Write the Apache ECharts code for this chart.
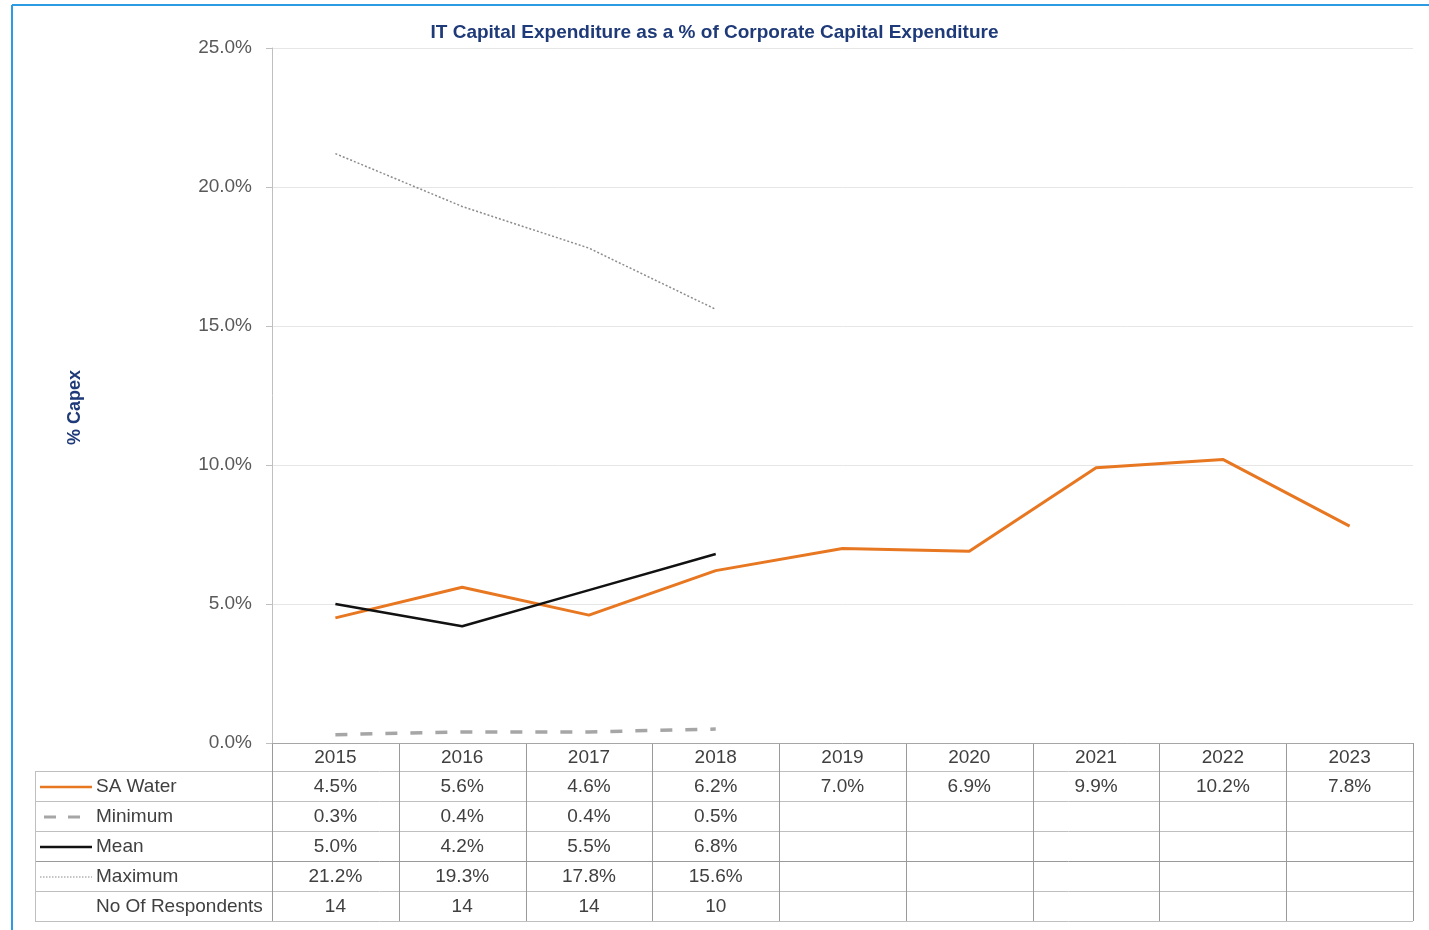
<!DOCTYPE html>
<html><head><meta charset="utf-8">
<script src="https://cdn.jsdelivr.net/npm/echarts@6/dist/echarts.min.js"></script>
<style>html,body{margin:0;padding:0;background:#fff}#c{width:1429px;height:930px}</style>
</head><body><div id="c"></div>
<script>
var years = ['2015','2016','2017','2018','2019','2020','2021','2022','2023'];
var saWater = [4.5,5.6,4.6,6.2,7.0,6.9,9.9,10.2,7.8];
var minimum = [0.3,0.4,0.4,0.5];
var mean = [5.0,4.2,5.5,6.8];
var maximum = [21.2,19.3,17.8,15.6];
var respondents = [14,14,14,10];
var yTicks = [0,5,10,15,20,25];
var rowNames = ['SA Water','Minimum','Mean','Maximum','No Of Respondents'];

var FONT = 'Liberation Sans, Arial, sans-serif';
var FS = 19;
var chart = echarts.init(document.getElementById('c'), null, {renderer:'canvas'});
var option = {
  animation:false,
  backgroundColor:'#fff',
  title:{text:'IT Capital Expenditure as a % of Corporate Capital Expenditure', left:'center', top:18,
    textStyle:{fontFamily:FONT, fontSize:19, fontWeight:'bold', color:'#1f3a78'}},
  grid:{left:272, right:16, top:48, bottom:187},
  xAxis:{type:'category', data:years, boundaryGap:true,
    axisLine:{lineStyle:{color:'#a6a6a6', width:1}}, axisTick:{show:false},
    axisLabel:{fontFamily:FONT, fontSize:FS, color:'#404040', margin:5}},
  yAxis:{type:'value', min:yTicks[0], max:yTicks[yTicks.length-1], interval:5,
    axisLine:{show:true, lineStyle:{color:'#bfbfbf'}},
    axisTick:{show:true, length:6, lineStyle:{color:'#bfbfbf'}},
    axisLabel:{fontFamily:FONT, fontSize:FS, color:'#595959', margin:20, formatter:function(v){return v.toFixed(1)+'%';}},
    splitLine:{lineStyle:{color:'#e6e6e6'}}},
  series:[
    {name:'Maximum', type:'line', data:maximum, symbol:'none', lineStyle:{color:'#8c8c8c', width:1.5, type:[2,2]}},
    {name:'Minimum', type:'line', data:minimum, symbol:'none', lineStyle:{color:'#a6a6a6', width:3.5, type:[12,13]}},
    {name:'SA Water', type:'line', data:saWater, symbol:'none', lineStyle:{color:'#e87722', width:3}},
    {name:'Mean', type:'line', data:mean, symbol:'none', lineStyle:{color:'#111111', width:2.5}}
  ]
};
chart.setOption(option);

// Build the data table beneath the axis from the axis scale
function fmt(v){ return v.toFixed(1)+'%'; }
var g = [];
var centers = years.map(function(y,i){ return chart.convertToPixel({xAxisIndex:0}, i); });
var step = centers[1]-centers[0];
var bounds = [centers[0]-step/2];
centers.forEach(function(c){ bounds.push(c+step/2); });
var y0 = chart.convertToPixel({yAxisIndex:0}, 0);
var yTop = chart.convertToPixel({yAxisIndex:0}, yTicks[yTicks.length-1]);
var rowTop = y0 + 28, rowH = 30, leftX = 35, rightX = bounds[bounds.length-1];
var lineCol = '#bfbfbf';
// y axis name
g.push({type:'text', x:75, y:(y0+yTop)/2+12, rotation:Math.PI/2,
  style:{text:'% Capex', fontFamily:FONT, fontSize:18, fontWeight:'bold', fill:'#1f3a78', align:'center', verticalAlign:'middle', textAlign:'center', textVerticalAlign:'middle'}});
// horizontal lines
for (var r=0; r<=rowNames.length; r++){
  var yy = Math.round(rowTop + r*rowH)+0.5;
  g.push({type:'line', shape:{x1:leftX, y1:yy, x2:rightX, y2:yy}, style:{stroke: r===3 ? '#9a9a9a' : lineCol, lineWidth:1}});
}
// vertical lines
bounds.forEach(function(b){
  var xx = Math.round(b)+0.5;
  g.push({type:'line', shape:{x1:xx, y1:y0, x2:xx, y2:rowTop+rowNames.length*rowH}, style:{stroke:'#9a9a9a', lineWidth:1}});
});
g.push({type:'line', shape:{x1:leftX+0.5, y1:rowTop, x2:leftX+0.5, y2:rowTop+rowNames.length*rowH}, style:{stroke:lineCol, lineWidth:1}});
// row labels and legend keys
var rows = [saWater, minimum, mean, maximum, respondents];
rowNames.forEach(function(n, r){
  var cy = rowTop + r*rowH + rowH/2 + 1;
  g.push({type:'text', x:96, y:cy, style:{text:n, fontFamily:FONT, fontSize:FS, fill:'#404040', textVerticalAlign:'middle', verticalAlign:'middle'}});
  var s = null;
  if (r===0) s = {stroke:'#e87722', lineWidth:2.5};
  if (r===1) s = {stroke:'#a6a6a6', lineWidth:3, lineDash:[12,12]};
  if (r===2) s = {stroke:'#111', lineWidth:2.5};
  if (r===3) s = {stroke:'#8c8c8c', lineWidth:1.2, lineDash:[1.5,1.5]};
  if (s) g.push({type:'line', shape:{x1:r===1?44:40, y1:cy, x2:92, y2:cy}, style:s});
  rows[r].forEach(function(v,i){
    g.push({type:'text', x:centers[i], y:cy, style:{text: r===4 ? String(v) : fmt(v), fontFamily:FONT, fontSize:FS, fill:'#404040', textAlign:'center', textVerticalAlign:'middle', align:'center', verticalAlign:'middle'}});
  });
});
// outer frame
g.push({type:'line', shape:{x1:12, y1:5, x2:1429, y2:5}, style:{stroke:'#2b9be3', lineWidth:2}});
g.push({type:'line', shape:{x1:12, y1:5, x2:12, y2:930}, style:{stroke:'#2b9be3', lineWidth:2}});
chart.setOption({graphic:g});
</script></body></html>
